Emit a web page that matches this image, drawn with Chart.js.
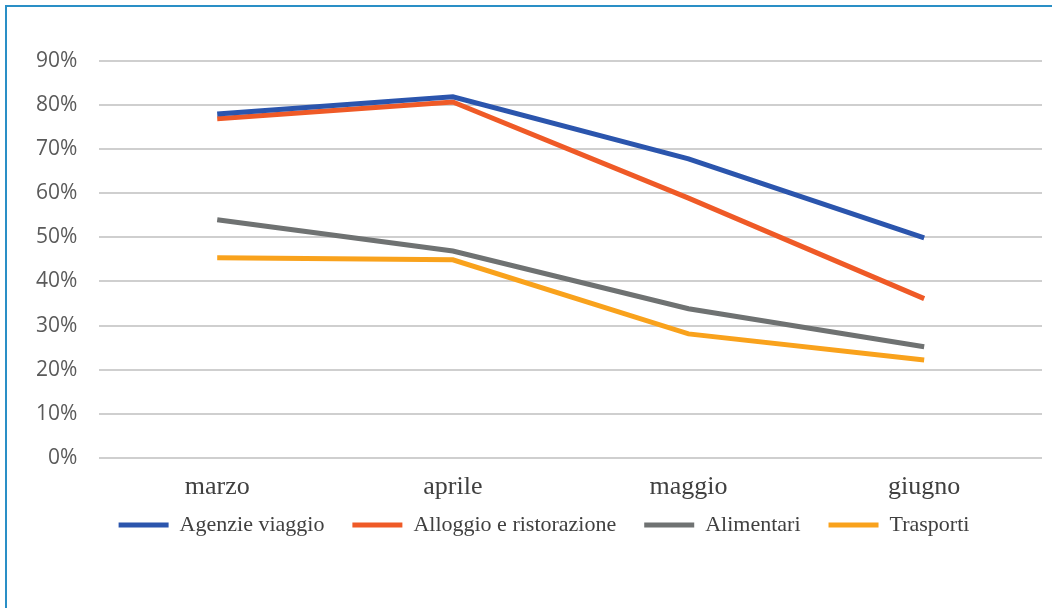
<!DOCTYPE html>
<html>
<head>
<meta charset="utf-8">
<script src="https://cdn.jsdelivr.net/npm/chart.js@4/dist/chart.umd.min.js"></script>
<style>
  html, body { margin: 0; padding: 0; background: #fff; }
  .wrap { position: relative; width: 1052px; height: 608px; overflow: hidden; }
  .frame { position: absolute; left: 5px; top: 5px; right: -10px; bottom: -10px;
           border-left: 2px solid #2a8fc6; border-top: 2px solid #2a8fc6; }
  canvas { position: absolute; left: 0; top: 0; }
</style>
</head>
<body>
<div class="wrap">
  <div class="frame"></div>
  <canvas id="grafico" width="1052" height="608"></canvas>
</div>
<script>
// Dati (percentuali)
const mesi = ['marzo', 'aprile', 'maggio', 'giugno'];
const agenzieViaggio = [78.0, 81.9, 67.8, 49.9];
const alloggioRistorazione = [76.9, 80.7, 58.9, 36.1];
const alimentari = [54.0, 46.9, 33.8, 25.2];
const trasporti = [45.4, 44.9, 28.1, 22.2];
const tickY = [0, 10, 20, 30, 40, 50, 60, 70, 80, 90];

// Colori delle serie
const colori = {
  agenzie: '#2b55ad',
  alloggio: '#ef5a27',
  alimentari: '#6f7272',
  trasporti: '#f9a21c'
};

function serie(label, data, color) {
  return {
    label: label,
    data: data,
    borderColor: color,
    backgroundColor: color,
    borderWidth: 5,
    pointRadius: 0,
    pointStyle: 'line',
    tension: 0
  };
}

// Dopo il layout: l'asse x torna alto abbastanza da non tagliare le etichette,
// e la legenda si sposta un po' a destra come nell'originale
const aggiustaLayout = {
  id: 'aggiustaLayout',
  afterLayout: function(chart) {
    chart.scales.x.bottom += 30;
    chart.legend.left += 16;
    chart.legend.right += 16;
  }
};

new Chart(document.getElementById('grafico'), {
  type: 'line',
  data: {
    labels: mesi,
    datasets: [
      serie('Agenzie viaggio', agenzieViaggio, colori.agenzie),
      serie('Alloggio e ristorazione', alloggioRistorazione, colori.alloggio),
      serie('Alimentari', alimentari, colori.alimentari),
      serie('Trasporti', trasporti, colori.trasporti)
    ]
  },
  plugins: [aggiustaLayout],
  options: {
    responsive: false,
    animation: false,
    layout: {
      padding: { left: 14, right: 10, top: 61, bottom: 62 }
    },
    plugins: {
      tooltip: { enabled: false },
      legend: {
        position: 'bottom',
        labels: {
          usePointStyle: true,
          pointStyleWidth: 50,
          boxHeight: 18,
          padding: 28,
          color: '#404040',
          font: { family: '"Liberation Serif", serif', size: 22 }
        }
      }
    },
    scales: {
      x: {
        offset: true,
        grid: { display: false },
        border: { display: false },
        // asse più basso: le etichette restano vicine alla legenda
        afterFit: function(axis) {
          axis.height -= 23;
        },
        ticks: {
          padding: 6,
          color: '#404040',
          font: { family: '"Liberation Serif", serif', size: 26 }
        }
      },
      y: {
        min: 0,
        max: 90,
        afterBuildTicks: function(axis) {
          axis.ticks = tickY.map(v => ({ value: v }));
        },
        grid: { color: '#cfcfcf', lineWidth: 2, drawTicks: false },
        border: { display: false },
        ticks: {
          padding: 22,
          color: '#5a5a5a',
          font: { family: '"Open Sans", sans-serif', size: 21 },
          callback: v => v + '%'
        }
      }
    }
  }
});
</script>
</body>
</html>
